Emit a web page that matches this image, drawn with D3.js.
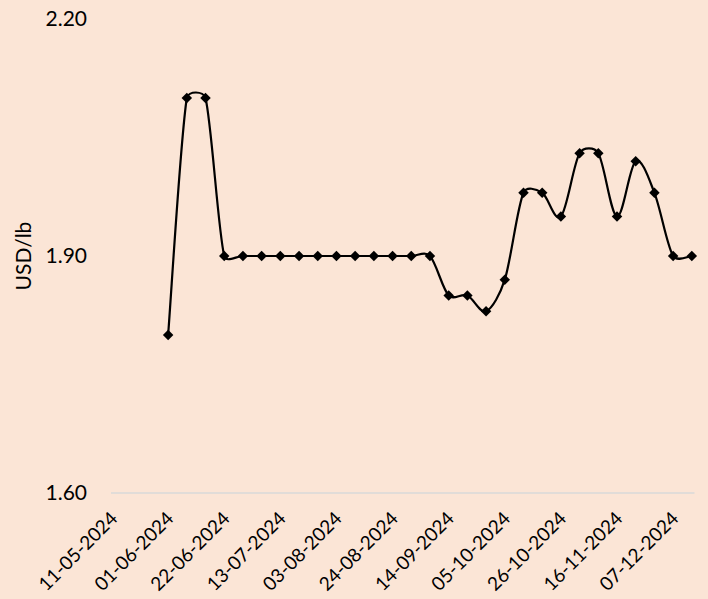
<!DOCTYPE html>
<html>
<head>
<meta charset="utf-8">
<script src="https://cdn.jsdelivr.net/npm/d3@7"></script>
<style>
  body { margin: 0; background: #fbe5d6; }
  svg { display: block; }
</style>
</head>
<body>
<div id="chart"></div>
<script>
// weekly price readings
const dates = [
  '01-06-2024', '08-06-2024', '15-06-2024', '22-06-2024', '29-06-2024',
  '06-07-2024', '13-07-2024', '20-07-2024', '27-07-2024', '03-08-2024',
  '10-08-2024', '17-08-2024', '24-08-2024', '31-08-2024', '07-09-2024',
  '14-09-2024', '21-09-2024', '28-09-2024', '05-10-2024', '12-10-2024',
  '19-10-2024', '26-10-2024', '02-11-2024', '09-11-2024', '16-11-2024',
  '23-11-2024', '30-11-2024', '07-12-2024', '14-12-2024'
];
const prices = [
  1.80, 2.10, 2.10, 1.90, 1.90,
  1.90, 1.90, 1.90, 1.90, 1.90,
  1.90, 1.90, 1.90, 1.90, 1.90,
  1.85, 1.85, 1.83, 1.87, 1.98,
  1.98, 1.95, 2.03, 2.03, 1.95,
  2.02, 1.98, 1.90, 1.90
];
const xTickLabels = [
  '11-05-2024', '01-06-2024', '22-06-2024', '13-07-2024', '03-08-2024',
  '24-08-2024', '14-09-2024', '05-10-2024', '26-10-2024', '16-11-2024', '07-12-2024'
];
const yTicks = [1.60, 1.90, 2.20];

const parse = d3.timeParse('%d-%m-%Y');
const width = 708, height = 599;
const font = 'Lato, sans-serif';

const svg = d3.select('#chart').append('svg')
    .attr('width', width)
    .attr('height', height);

const x = d3.scaleTime()
    .domain([parse('11-05-2024'), parse('15-12-2024')])
    .range([112, 694.5]);

const y = d3.scaleLinear()
    .domain([1.60, 2.20])
    .range([493, 19]);

// bottom axis line
svg.append('line')
    .attr('x1', 111).attr('x2', 694.5)
    .attr('y1', y(1.60)).attr('y2', y(1.60))
    .attr('stroke', '#d9d9d9')
    .attr('stroke-width', 1.3);

// y tick labels
svg.append('g')
    .selectAll('text')
    .data(yTicks)
    .enter().append('text')
    .attr('x', 87)
    .attr('y', d => y(d))
    .attr('dy', '0.35em')
    .attr('text-anchor', 'end')
    .style('font-family', font)
    .style('font-size', '21px')
    .style('fill', '#000')
    .text(d => d.toFixed(2));

// y axis title
svg.append('text')
    .attr('transform', `translate(31,${y(1.90)}) rotate(-90)`)
    .attr('text-anchor', 'middle')
    .style('font-family', font)
    .style('font-size', '21px')
    .style('fill', '#000')
    .text('USD/lb');

// x tick labels, rotated
svg.append('g')
    .selectAll('text')
    .data(xTickLabels)
    .enter().append('text')
    .attr('transform', d => `translate(${x(parse(d)) + 2},${y(1.60) + 22}) rotate(-45)`)
    .attr('text-anchor', 'end')
    .attr('dy', '0.35em')
    .style('font-family', font)
    .style('font-size', '19px')
    .style('fill', '#000')
    .text(d => d);

const points = dates.map((d, i) => ({ date: parse(d), value: prices[i] }));
const px = points.map(d => [x(d.date), y(d.value)]);

// spreadsheet-style smoothing: bezier with tangent (next - prev) / 6,
// control arm capped to a share of the segment so it does not overshoot much
function smoothPath(p) {
    const path = d3.path();
    const n = p.length;
    const tan = p.map((pt, i) => {
        const a = p[Math.max(i - 1, 0)], b = p[Math.min(i + 1, n - 1)];
        return [(b[0] - a[0]) / 6, (b[1] - a[1]) / 6];
    });
    const arm = (t, segLen) => {
        const len = Math.hypot(t[0], t[1]);
        const cap = 0.4 * segLen;
        const s = len > cap ? cap / len : 1;
        return [t[0] * s, t[1] * s];
    };
    path.moveTo(p[0][0], p[0][1]);
    for (let i = 0; i < n - 1; i++) {
        const a = p[i], b = p[i + 1];
        const seg = Math.hypot(b[0] - a[0], b[1] - a[1]);
        const t0 = arm(tan[i], seg), t1 = arm(tan[i + 1], seg);
        path.bezierCurveTo(a[0] + t0[0], a[1] + t0[1], b[0] - t1[0], b[1] - t1[1], b[0], b[1]);
    }
    return path.toString();
}

svg.append('path')
    .attr('d', smoothPath(px))
    .attr('fill', 'none')
    .attr('stroke', '#000')
    .attr('stroke-width', 2.2);

// diamond markers
svg.append('g')
    .selectAll('path')
    .data(points)
    .enter().append('path')
    .attr('transform', d => `translate(${x(d.date)},${y(d.value)})`)
    .attr('d', d3.symbol().type(d3.symbolDiamond2).size(70))
    .attr('fill', '#000');
</script>
</body>
</html>
